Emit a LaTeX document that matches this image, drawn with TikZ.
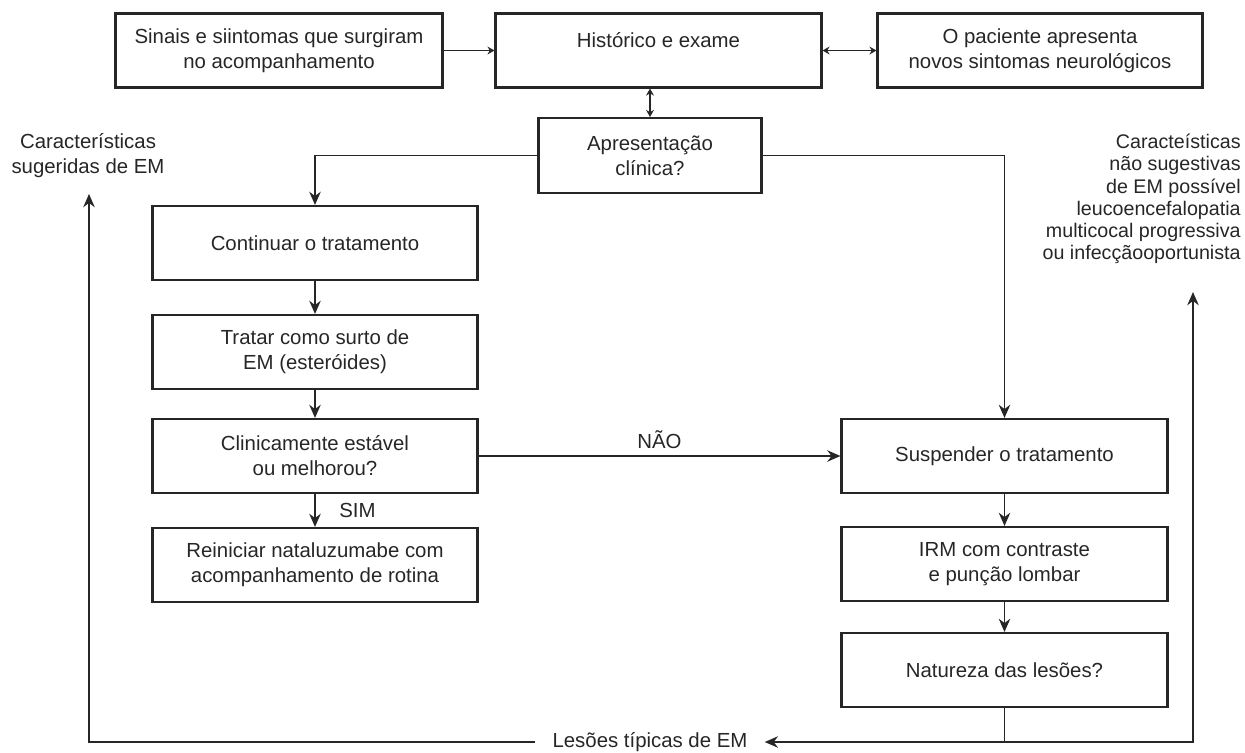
\documentclass[tikz,border=0pt]{standalone}
\usepackage{fontspec}
\setmainfont{Liberation Sans}
\usetikzlibrary{arrows.meta}

\newcommand\flowfont{\fontsize{11.6}{14.2}\selectfont}
\newcommand\notefont{\fontsize{11.2}{12.7}\selectfont}

\begin{document}
\begin{tikzpicture}[x=0.02cm,y=-0.02cm,
  every node/.style={text=black!85},
  box/.style={draw=black!85,line width=1.2pt,minimum height=1.48cm,align=center,font=\flowfont},
  arr/.style={draw=black!85,line width=1.1pt,-{Stealth[length=7.5pt,width=6.5pt]}},
  small/.style={draw=black!85,line width=1.1pt,-{Stealth[length=4pt,width=4.5pt]}},
  dbl/.style={draw=black!85,line width=1.1pt,{Stealth[length=4pt,width=4.5pt]}-{Stealth[length=4pt,width=4.5pt]}}]

\useasboundingbox (0,0) rectangle (1245,752);

% Top row
\node[box,minimum width=6.54cm] (sinais) at (279,50.5) {Sinais e siintomas que surgiram\\no acompanhamento};
\node[box,minimum width=6.52cm,text depth=0.42cm] (hist) at (658.5,50.5) {Histórico e exame};
\node[box,minimum width=6.50cm] (pac) at (1040,50.5) {O paciente apresenta\\novos sintomas neurológicos};
\node[box,minimum width=4.46cm,minimum height=1.5cm] (apres) at (650,155.5) {Apresentação\\clínica?};

% Left column
\node[box,minimum width=6.50cm] (cont) at (315,243) {Continuar o tratamento};
\node[box,minimum width=6.50cm] (tratar) at (315,352) {Tratar como surto de\\EM (esteróides)};
\node[box,minimum width=6.50cm] (clin) at (315,456) {Clinicamente estável\\ou melhorou?};
\node[box,minimum width=6.50cm] (rein) at (315,565) {Reiniciar nataluzumabe com\\acompanhamento de rotina};

% Right column
\node[box,minimum width=6.52cm] (susp) at (1004.5,456) {Suspender o tratamento};
\node[box,minimum width=6.52cm] (irm) at (1004.5,564) {IRM com contraste\\e punção lombar};
\node[box,minimum width=6.52cm] (nat) at (1004.5,670) {Natureza das lesões?};

% Side labels
\node[font=\flowfont,align=center] (sug) at (88,155.5) {Características\\sugeridas de EM};
\node[font=\notefont,align=right,anchor=east,inner sep=0pt] (nsug) at (1241,199)
  {Caracteísticas\\não sugestivas\\de EM possível\\leucoencefalopatia\\multicocal progressiva\\ou infecçãooportunista};
\node[font=\flowfont,inner xsep=0.34cm] (lesoes) at (650,742) {Lesões típicas de EM};

% Coordinates
\coordinate (sugtip) at (89,194);
\coordinate (nsugtip) at (1193,292);
\coordinate (junc) at (nat.south |- lesoes);

% Top connectors
\draw[small] (sinais) -- (hist);
\draw[dbl] (hist) -- (pac);
\draw[dbl] (apres.north) -- (apres.north |- hist.south);
\draw[arr] (apres.west) -| (cont.north);
\draw[arr] (apres.east) -| (susp.north);

% Left chain
\draw[arr] (cont) -- (tratar);
\draw[arr] (tratar) -- (clin);
\draw[arr] (clin) -- node[right,xshift=0.35cm,font=\flowfont] {SIM} (rein);
\draw[arr] (clin) -- node[above,font=\flowfont] {NÃO} (susp);

% Right chain
\draw[arr] (susp) -- (irm);
\draw[arr] (irm) -- (nat);

% Bottom return lines
\draw[draw=black!85,line width=1.1pt] (nat.south) -- (junc);
\draw[arr] (junc) -- (lesoes.east);
\draw[arr] (lesoes.west) -| (sugtip);
\draw[arr] (junc) -| (nsugtip);

\end{tikzpicture}
\end{document}
